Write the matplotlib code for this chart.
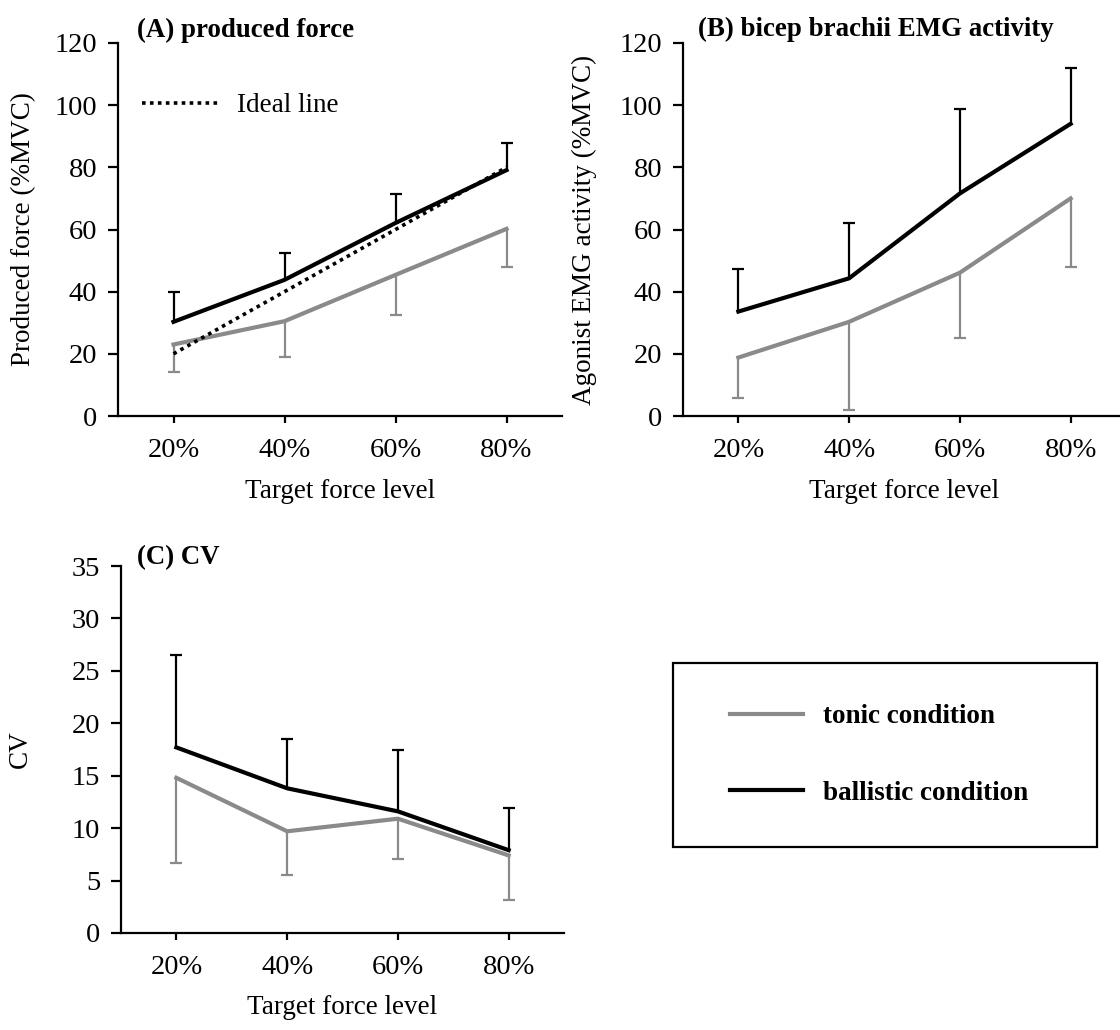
import matplotlib
matplotlib.use("Agg")
import matplotlib.pyplot as plt
from matplotlib.lines import Line2D
from matplotlib.patches import Rectangle
import numpy as np

plt.rcParams['font.family'] = ['Liberation Serif', 'DejaVu Serif']
plt.rcParams['font.size'] = 19.5

levels = ["20%", "40%", "60%", "80%"]

# (A) produced force (%MVC)
force_tonic = [23.0, 30.5, 45.4, 60.2]
force_tonic_sd = [8.7, 11.4, 12.9, 12.2]
force_ballistic = [30.3, 43.8, 62.1, 79.1]
force_ballistic_sd = [9.5, 8.5, 9.2, 8.6]
ideal = [20, 40, 60, 80]

# (B) bicep brachii EMG (%MVC)
emg_tonic = [18.8, 30.3, 46.1, 70.0]
emg_tonic_sd = [12.9, 28.5, 21.1, 22.0]
emg_ballistic = [33.6, 44.3, 71.6, 94.0]
emg_ballistic_sd = [13.7, 17.9, 27.1, 17.8]

# (C) CV
cv_tonic = [14.8, 9.7, 10.9, 7.4]
cv_tonic_sd = [8.1, 4.2, 3.8, 4.3]
cv_ballistic = [17.7, 13.8, 11.6, 7.9]
cv_ballistic_sd = [8.8, 4.7, 5.9, 4.0]

GRAY = "#8a8a8a"
W, H = 1120, 1030

fig = plt.figure(figsize=(W / 100, H / 100), dpi=100)


def px_axes(x0, x1, y_top, y_bot):
    return fig.add_axes([x0 / W, 1 - y_bot / H, (x1 - x0) / W, (y_bot - y_top) / H])


def one_sided(ax, x, y, sd, color, up, z):
    err = [[0] * 4, sd] if up else [sd, [0] * 4]
    line, caps, bars = ax.errorbar(x, y, yerr=err, color=color, lw=3,
                                   elinewidth=1.6, capsize=4.5, capthick=1.6, zorder=z)
    # hide the cap that sits on the line itself
    caps[0 if up else 1].set_visible(False)


def draw_panel(ax, tonic, tonic_sd, ballistic, ballistic_sd, ymax, ystep, ylabel):
    x = np.arange(len(levels))
    one_sided(ax, x, tonic, tonic_sd, GRAY, False, 2)
    one_sided(ax, x, ballistic, ballistic_sd, "black", True, 3)
    ax.set_xlim(-0.5, 3.5)
    ax.set_ylim(0, ymax)
    ax.set_yticks(np.arange(0, ymax + 0.1, ystep))
    ax.set_xticks(x)
    ax.set_xticklabels(levels)
    ax.spines['top'].set_visible(False)
    ax.spines['right'].set_visible(False)
    for s in ('left', 'bottom'):
        ax.spines[s].set_linewidth(1.6)
    ax.tick_params(axis='y', length=7, width=1.6, pad=8, labelsize=20.5)
    ax.tick_params(axis='x', length=5, width=1.6, pad=11, labelsize=20.5)
    ax.set_xlabel("Target force level", labelpad=11)
    ax.set_ylabel(ylabel)


axA = px_axes(118, 562, 43, 416)
draw_panel(axA, force_tonic, force_tonic_sd, force_ballistic, force_ballistic_sd,
           120, 20, "Produced force (%MVC)")
ideal_line, = axA.plot(np.arange(4), ideal, color="black", lw=2.6, ls=(0, (1, 1.2)), zorder=4)
axA.legend([ideal_line], ["Ideal line"], loc="upper left", bbox_to_anchor=(0.0, 0.93),
           frameon=False, handlelength=2.9, handletextpad=0.6, fontsize=19.5)

axB = px_axes(683, 1126, 43, 416)
draw_panel(axB, emg_tonic, emg_tonic_sd, emg_ballistic, emg_ballistic_sd,
           120, 20, "Agonist EMG activity (%MVC)")

axC = px_axes(121, 564, 566, 933)
draw_panel(axC, cv_tonic, cv_tonic_sd, cv_ballistic, cv_ballistic_sd,
           35, 5, "CV")

axA.yaxis.set_label_coords(-0.185, 0.5)
axB.yaxis.set_label_coords(-0.194, 0.5)
axC.yaxis.set_label_coords(-0.199, 0.5)

fig.text(137 / W, 1 - 30 / H, "(A) produced force", fontweight="bold", fontsize=19.4, va="center")
fig.text(698 / W, 1 - 29 / H, "(B) bicep brachii EMG activity", fontweight="bold", fontsize=19.4, va="center")
fig.text(137 / W, 1 - 558 / H, "(C) CV", fontweight="bold", fontsize=19.4, va="center")

# legend box
fig.patches.append(Rectangle((673 / W, 1 - 847 / H), (1097 - 673) / W, (847 - 663) / H,
                             transform=fig.transFigure, fill=False, ec="black", lw=1.6))
handles = [Line2D([], [], color=GRAY, lw=3), Line2D([], [], color="black", lw=3)]
fig.legend(handles, ["tonic condition", "ballistic condition"], loc="center left",
           bbox_to_anchor=(719 / W, 1 - 755 / H), frameon=False, handlelength=2.7,
           handletextpad=0.75, labelspacing=1.9, borderaxespad=0,
           prop={'weight': 'bold', 'size': 19.5})

fig.savefig("out.png", dpi=100)
